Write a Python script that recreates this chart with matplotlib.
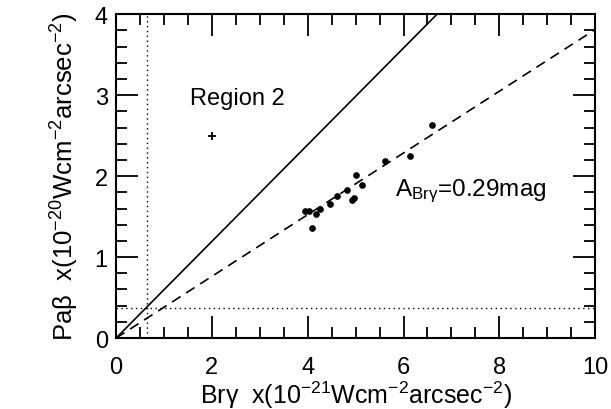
import matplotlib
matplotlib.use("Agg")
import matplotlib.pyplot as plt
from matplotlib.ticker import MultipleLocator
import numpy as np

plt.rcParams['font.family'] = ['Liberation Sans', 'DejaVu Sans']
plt.rcParams['mathtext.fontset'] = 'custom'
plt.rcParams['mathtext.rm'] = 'Liberation Sans'
plt.rcParams['mathtext.it'] = 'Liberation Sans'
plt.rcParams['mathtext.sf'] = 'Liberation Sans'
plt.rcParams.update({
    'xtick.direction': 'in', 'ytick.direction': 'in',
    'xtick.top': True, 'ytick.right': True,
    'xtick.major.size': 16, 'ytick.major.size': 16,
    'xtick.minor.size': 8, 'ytick.minor.size': 8,
    'xtick.major.width': 1.3, 'ytick.major.width': 1.3,
    'xtick.minor.width': 1.3, 'ytick.minor.width': 1.3,
    'xtick.major.pad': 13, 'ytick.major.pad': 6,
    'xtick.labelsize': 17, 'ytick.labelsize': 17,
    'xtick.minor.visible': True, 'ytick.minor.visible': True,
})

# data
brg = [3.95, 4.03, 4.08, 4.17, 4.26, 4.47, 4.61, 4.83, 4.92, 4.96, 5.00, 5.13, 5.62, 6.14, 6.60]
pab = [1.57, 1.57, 1.36, 1.53, 1.60, 1.66, 1.75, 1.83, 1.70, 1.73, 2.01, 1.89, 2.19, 2.25, 2.63]
region2_x = [2.0]
region2_y = [2.5]
slope_intrinsic = 0.597
slope_fit = 0.381
limit_x = 0.65
limit_y = 0.37

fig = plt.figure(figsize=(6.11, 4.10), dpi=100)
ax = fig.add_axes([0.190, 0.173, 0.784, 0.790])

xx = np.array([0, 10])
ax.plot(xx, slope_intrinsic * xx, color='black', lw=1.2)
ax.plot(xx, slope_fit * xx, color='black', lw=1.2, dashes=(6, 4))
ax.axvline(limit_x, color='black', lw=1.0, ls=(0, (1, 2.5)))
ax.axhline(limit_y, color='black', lw=1.0, ls=(0, (1, 2.5)))

ax.plot(brg, pab, 'o', color='black', ms=3.8)
ax.plot(region2_x, region2_y, '+', color='black', ms=6, mew=1.3)

ax.text(1.55, 2.97, 'Region 2', fontsize=17, va='center', ha='left')
ax.text(5.82, 1.83, r'A$_{\rm Br\gamma}$=0.29mag', fontsize=17.5, va='center', ha='left')

ax.set_xlim(0, 10)
ax.set_ylim(0, 4)
ax.xaxis.set_major_locator(MultipleLocator(2))
ax.xaxis.set_minor_locator(MultipleLocator(0.5))
ax.yaxis.set_major_locator(MultipleLocator(1))
ax.yaxis.set_minor_locator(MultipleLocator(0.2))
for s in ax.spines.values():
    s.set_linewidth(1.5)

ax.set_xlabel(r'Br$\gamma$  x(10$^{-21}$Wcm$^{-2}$arcsec$^{-2}$)', fontsize=18, labelpad=0)
ax.set_ylabel(r'Pa$\beta$  x(10$^{-20}$Wcm$^{-2}$arcsec$^{-2}$)', fontsize=18.5, labelpad=10)

fig.savefig('out.png', dpi=100)
